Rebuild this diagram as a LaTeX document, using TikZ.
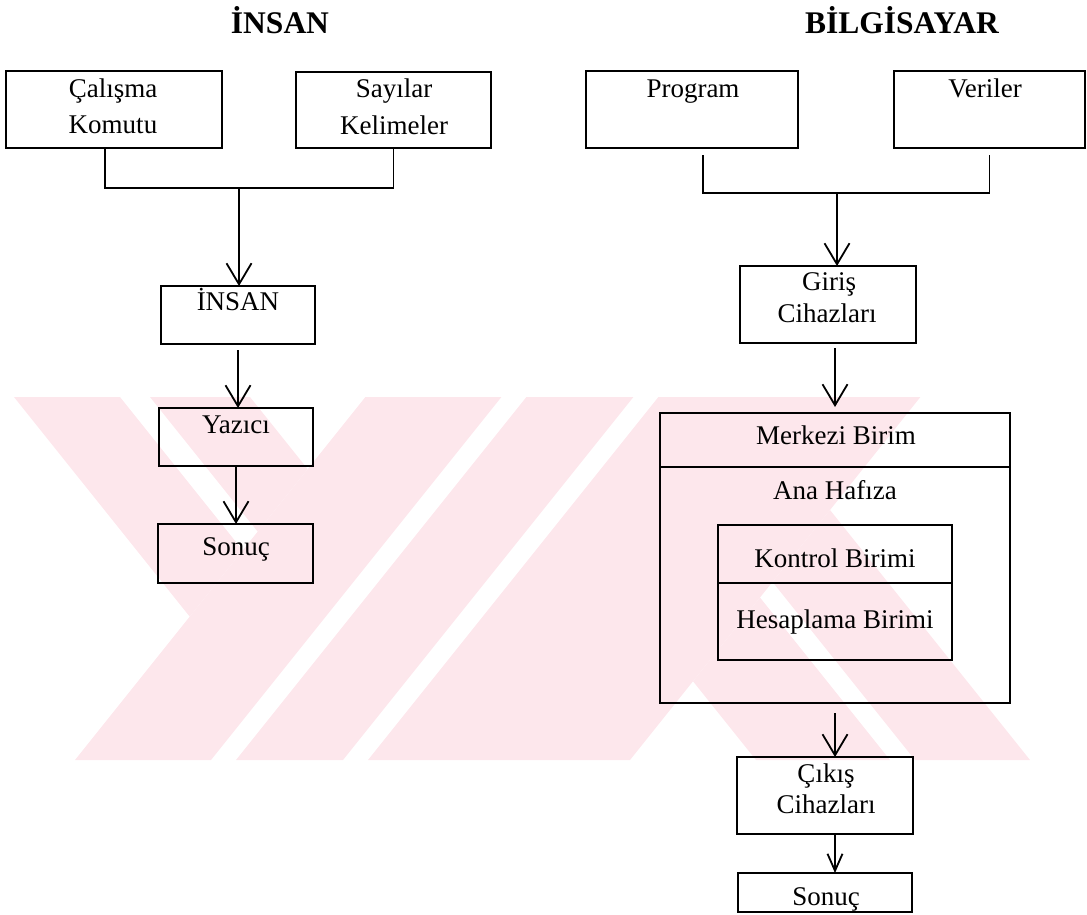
\documentclass[tikz,border=0pt]{standalone}
\usepackage{fontspec}
\setmainfont{Liberation Serif}
\usetikzlibrary{arrows.meta}
\definecolor{wmpink}{RGB}{253,231,236}
\begin{document}
\begin{tikzpicture}[x=1pt,y=-1pt,
  box/.style={draw,line width=2.2pt,inner sep=0pt,outer sep=0pt,rectangle},
  lbl/.style={inner sep=0pt,outer sep=0pt,anchor=base,font=\fontsize{27}{31}\selectfont},
  title/.style={inner sep=0pt,outer sep=0pt,anchor=base,font=\fontsize{31.5}{36}\selectfont\bfseries},
  wire/.style={line width=1.8pt},
  flow/.style={wire,-{Straight Barb[length=21pt,width=25pt,line width=1.8pt]}},
  flowsmall/.style={wire,-{Straight Barb[length=17pt,width=15pt,line width=1.8pt]}},
]
\useasboundingbox (0,0) rectangle (1087,914);

% background emblem: pale diagonal bands
\begin{scope}[wmpink]
  \fill (14,397) -- (120,397) -- (242.7,550.4) -- (189.7,616.6) -- cycle;
  \fill (150,397) -- (250,397) -- (307.7,469.1) -- (257.7,531.6) -- cycle;
  \fill (365.4,397) -- (501.4,397) -- (211,760) -- (75,760) -- cycle;
  \fill (526.4,397) -- (633.4,397) -- (343,760) -- (236,760) -- cycle;
  \fill (658.4,397) -- (920.4,397) -- (630,760) -- (368,760) -- cycle;
  \fill (693,681.25) -- (760,597.5) -- (890,760) -- (756,760) -- cycle;
  \fill (772.5,581.9) -- (830,510) -- (1030,760) -- (915,760) -- cycle;
\end{scope}

% titles
\node[title] (tInsan) at (280,33) {İNSAN};
\node[title] (tBilg) at (902,33) {BİLGİSAYAR};

% left column: boxes
\node[box,minimum width=216pt,minimum height=77pt] (calisma) at (114,109.5) {};
\node[box,minimum width=195pt,minimum height=76pt] (sayilar) at (393.5,110) {};
\node[box,minimum width=154pt,minimum height=58pt] (insanbox) at (238,315) {};
\node[box,minimum width=154pt,minimum height=58pt] (yazici) at (236,437) {};
\node[box,minimum width=155pt,minimum height=59pt] (sonucL) at (235.5,553.5) {};

% right column: boxes
\node[box,minimum width=212pt,minimum height=77pt] (program) at (692,109.5) {};
\node[box,minimum width=191pt,minimum height=77pt] (veriler) at (989.5,109.5) {};
\node[box,minimum width=176pt,minimum height=77pt] (giris) at (828,304.5) {};
\node[box,minimum width=350pt,minimum height=290pt] (merkezi) at (835,558) {};
\node[box,minimum width=234pt,minimum height=135pt] (birimler) at (835,592.5) {};
\node[box,minimum width=176pt,minimum height=77pt] (cikis) at (825,795.5) {};
\node[box,minimum width=174pt,minimum height=39pt] (sonucR) at (825,892.5) {};

% dividing lines inside the central unit
\coordinate (mdiv) at (835,467);
\coordinate (bdiv) at (835,583);
\draw[line width=2.2pt] (merkezi.west |- mdiv) -- (merkezi.east |- mdiv);
\draw[line width=2.2pt] (birimler.west |- bdiv) -- (birimler.east |- bdiv);

% texts in the boxes
\node[lbl] (calisma1) at (113,97) {Çalışma};
\node[lbl] (calisma2) at (113,133) {Komutu};
\node[lbl] (sayilar1) at (394,97) {Sayılar};
\node[lbl] (sayilar2) at (394,134) {Kelimeler};
\node[lbl] (insanT) at (238,310) {İNSAN};
\node[lbl] (yaziciT) at (236,433) {Yazıcı};
\node[lbl] (sonucLT) at (236,555) {Sonuç};
\node[lbl] (programT) at (693,97) {Program};
\node[lbl] (verilerT) at (985,97) {Veriler};
\node[lbl] (giris1) at (829,290) {Giriş};
\node[lbl] (giris2) at (827,322) {Cihazları};
\node[lbl] (merkeziT) at (836,444) {Merkezi Birim};
\node[lbl] (anaT) at (835,499) {Ana Hafıza};
\node[lbl] (kontrolT) at (835,567) {Kontrol Birimi};
\node[lbl] (hesapT) at (835,628) {Hesaplama Birimi};
\node[lbl] (cikis1) at (826,782) {Çıkış};
\node[lbl] (cikis2) at (826,813) {Cihazları};
\node[lbl] (sonucRT) at (826,905) {Sonuç};

% left connectors
\coordinate (jl) at (239,188);
\draw[wire] ([xshift=-9pt]calisma.south) |- (jl) -| (sayilar.south);
\draw[flow] (jl) -- (jl |- insanbox.north);
\draw[flow] ([yshift=-6pt]insanbox.south) -- (insanbox.south |- yazici.north);
\draw[flow] (yazici.south) -- (yazici.south |- sonucL.north);

% right connectors
\coordinate (jr) at (837,193);
\draw[wire] ([xshift=11pt,yshift=-7pt]program.south) |- (jr) -| ([yshift=-7pt]veriler.south);
\draw[flow] (jr) -- (jr |- giris.north);
\path (giris.south -| merkezi.north) ++(0,5) coordinate (g1);
\draw[flow] (g1) -- ([yshift=6pt]merkezi.north);
\draw[flow] ([yshift=-10pt]merkezi.south) -- (merkezi.south |- cikis.north);
\draw[flowsmall] (merkezi.south |- cikis.south) -- (merkezi.south |- sonucR.north);
\end{tikzpicture}
\end{document}
